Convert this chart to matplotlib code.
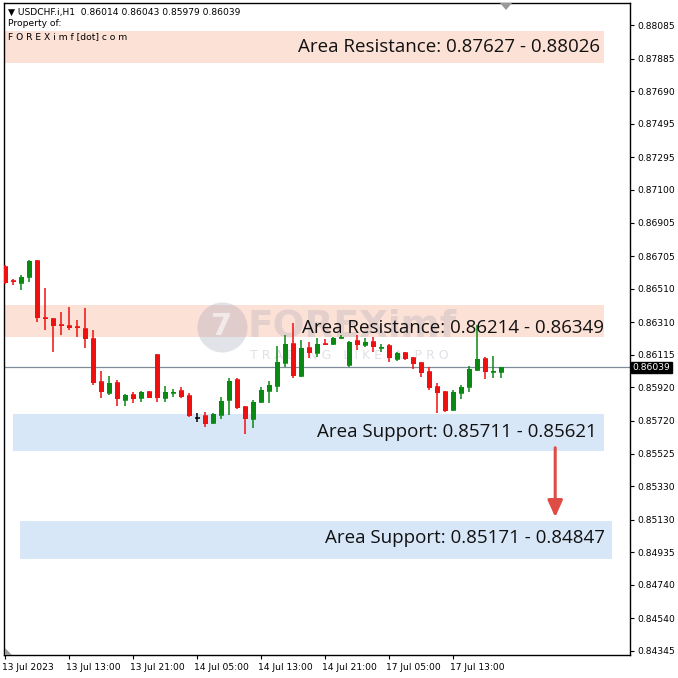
import matplotlib
matplotlib.use("Agg")
import matplotlib.pyplot as plt
from matplotlib.patches import Polygon
import matplotlib.transforms as mtransforms

# USDCHF.i H1 candles
opens = [0.86639, 0.86556, 0.86544, 0.86580, 0.86675, 0.86335, 0.86329, 0.86293, 0.86287, 0.86281,
         0.86269, 0.86209, 0.85952, 0.85887, 0.85946, 0.85845, 0.85875, 0.85857, 0.85893, 0.86114,
         0.85857, 0.85887, 0.85898, 0.85869, 0.85740, 0.85749, 0.85707, 0.85755, 0.85845, 0.85964,
         0.85803, 0.85731, 0.85833, 0.85898, 0.85928, 0.86066, 0.86179, 0.85988, 0.86155, 0.86126,
         0.86179, 0.86179, 0.86215, 0.86054, 0.86197, 0.86173, 0.86191, 0.86155, 0.86167, 0.86090,
         0.86126, 0.86096, 0.86066, 0.86012, 0.85922, 0.85893, 0.85785, 0.85887, 0.85922, 0.86024,
         0.86090, 0.86012, 0.86014]
highs = [0.86651, 0.86568, 0.86592, 0.86681, 0.86681, 0.86514, 0.86335, 0.86370, 0.86400, 0.86323,
         0.86394, 0.86263, 0.86018, 0.85988, 0.85964, 0.85881, 0.85893, 0.85898, 0.85898, 0.86120,
         0.85928, 0.85910, 0.85922, 0.85887, 0.85767, 0.85773, 0.85767, 0.85863, 0.85976, 0.85976,
         0.85809, 0.85845, 0.85922, 0.85958, 0.86167, 0.86233, 0.86305, 0.86203, 0.86191, 0.86215,
         0.86209, 0.86221, 0.86233, 0.86197, 0.86233, 0.86215, 0.86221, 0.86179, 0.86179, 0.86132,
         0.86132, 0.86102, 0.86072, 0.86042, 0.85946, 0.85898, 0.85904, 0.85934, 0.86048, 0.86293,
         0.86102, 0.86108, 0.86043]
lows = [0.86538, 0.86532, 0.86502, 0.86550, 0.86311, 0.86263, 0.86132, 0.86233, 0.86263, 0.86221,
        0.86155, 0.85934, 0.85857, 0.85875, 0.85809, 0.85809, 0.85827, 0.85833, 0.85857, 0.85833,
        0.85833, 0.85863, 0.85857, 0.85743, 0.85713, 0.85684, 0.85701, 0.85731, 0.85755, 0.85791,
        0.85642, 0.85678, 0.85827, 0.85827, 0.85893, 0.86042, 0.85976, 0.85982, 0.86096, 0.86102,
        0.86173, 0.86173, 0.86209, 0.86042, 0.86143, 0.86161, 0.86132, 0.86132, 0.86072, 0.86078,
        0.86084, 0.86030, 0.85982, 0.85904, 0.85767, 0.85773, 0.85779, 0.85851, 0.85893, 0.86018,
        0.85970, 0.85976, 0.85979]
closes = [0.86544, 0.86550, 0.86580, 0.86675, 0.86335, 0.86329, 0.86287, 0.86287, 0.86275, 0.86275,
          0.86209, 0.85946, 0.85893, 0.85946, 0.85851, 0.85875, 0.85851, 0.85893, 0.85857, 0.85857,
          0.85893, 0.85893, 0.85863, 0.85749, 0.85740, 0.85701, 0.85761, 0.85839, 0.85958, 0.85797,
          0.85731, 0.85833, 0.85904, 0.85934, 0.86072, 0.86179, 0.85988, 0.86155, 0.86126, 0.86179,
          0.86173, 0.86215, 0.86221, 0.86191, 0.86173, 0.86191, 0.86161, 0.86161, 0.86096, 0.86126,
          0.86090, 0.86060, 0.86006, 0.85916, 0.85887, 0.85779, 0.85893, 0.85922, 0.86030, 0.86090,
          0.86012, 0.86018, 0.86039]

last_price = 0.86039

price_ticks = [0.88085, 0.87885, 0.87690, 0.87495, 0.87295, 0.87100, 0.86905, 0.86705, 0.86510, 0.86310,
               0.86115, 0.85920, 0.85720, 0.85525, 0.85330, 0.85130, 0.84935, 0.84740, 0.84540, 0.84345]
time_ticks = [0, 8, 16, 24, 32, 40, 48, 56]
time_labels = ["13 Jul 2023", "13 Jul 13:00", "13 Jul 21:00", "14 Jul 05:00",
               "14 Jul 13:00", "14 Jul 21:00", "17 Jul 05:00", "17 Jul 13:00"]

# drawn zones (bar-index span, price span) and their captions
zone_x0 = [-0.2, -0.2, 1.0, 1.9]
zone_x1 = [74.9, 74.9, 74.9, 75.9]
zone_lo = [0.87858, 0.86221, 0.85540, 0.84895]
zone_hi = [0.88049, 0.86412, 0.85761, 0.85122]
zone_kind = ["res", "res", "sup", "sup"]
zone_text = ["Area Resistance: 0.87627 - 0.88026",
             "Area Resistance: 0.86214 - 0.86349",
             "Area Support: 0.85711 - 0.85621",
             "Area Support: 0.85171 - 0.84847"]
text_x = [74.4, 74.9, 74.0, 75.0]
text_y = [0.87954, 0.86275, 0.85654, 0.85020]

zone_colors = {"res": "#fce1d6", "sup": "#d7e7f8"}
up_col, down_col, doji_col = "#0a8a12", "#f01010", "#000000"

W = H = 678
fig = plt.figure(figsize=(6.78, 6.78), dpi=100)
ax = fig.add_axes([4 / W, 1 - 655 / H, 626 / W, 652 / H])

for x0, x1, lo, hi, kind in zip(zone_x0, zone_x1, zone_lo, zone_hi, zone_kind):
    ax.fill_between([x0, x1], lo, hi, color=zone_colors[kind], lw=0, zorder=1)

# watermark
ax.plot(27.1, 0.86281, "o", ms=36, color="#8e8ea8", alpha=0.25, mec="none", zorder=2)
ax.text(27.1, 0.86281, "7", fontsize=22, fontweight="bold", color="white", alpha=0.6,
        ha="center", va="center", zorder=2)
ax.text(30.3, 0.86281, "FOREXimf", fontsize=27, fontweight="bold", color="#9a9ab0",
        alpha=0.25, ha="left", va="center", zorder=2)
ax.text(43.0, 0.86108, "T R A D I N G   L I K E   A   P R O", fontsize=9, color="#9a9ab0",
        alpha=0.3, ha="center", va="center", zorder=2)

# current price line
ax.axhline(last_price, color="#7f8c9a", lw=0.9, zorder=2)

for i, (o, h, l, c) in enumerate(zip(opens, highs, lows, closes)):
    col = up_col if c > o else down_col if c < o else doji_col
    ax.vlines(i, l, h, color=col, lw=1.1, zorder=3)
    ax.bar(i, c - o, bottom=o, width=0.62, color=col, lw=0, zorder=4)
    ax.hlines(o, i - 0.31, i + 0.31, color=col, lw=1.1, zorder=4)

for tx, ty, t in zip(text_x, text_y, zone_text):
    ax.text(tx, ty, t, fontsize=13.5, family="Open Sans", color="#111111",
            ha="right", va="center", zorder=5)

ax.annotate("", xy=(68.75, 0.85128), xytext=(68.75, 0.85576),
            arrowprops=dict(arrowstyle="-|>,head_length=1.0,head_width=0.45",
                            color="#df4c46", lw=2.2), zorder=6)

ax.set_xlim(-0.15, 78.1)
ax.set_ylim(0.84321, 0.88217)

ax.yaxis.tick_right()
ax.set_yticks(price_ticks)
ax.set_yticklabels([f"{p:.5f}" for p in price_ticks])
ax.set_xticks(time_ticks)
ax.set_xticklabels(time_labels)
ax.tick_params(axis="both", direction="out", length=3, width=0.8, labelsize=6.6,
               colors="#000000", pad=2)
ax.tick_params(axis="x", pad=3)
offset = mtransforms.ScaledTranslation(-3 / 100, 0, fig.dpi_scale_trans)
for lbl in ax.get_xticklabels():
    lbl.set_horizontalalignment("left")
    lbl.set_transform(lbl.get_transform() + offset)
for s in ax.spines.values():
    s.set_linewidth(1.0)
    s.set_color("black")

# last price tag
trans = mtransforms.blended_transform_factory(ax.transAxes, ax.transData)
ax.text(1.004, last_price, f"{last_price:.5f}", transform=trans, fontsize=6.6, color="white",
        ha="left", va="center", clip_on=False,
        bbox=dict(boxstyle="square,pad=0.15", fc="black", ec="black"), zorder=7)

# header
fig.text(8 / W, 1 - 12 / H, "\u25BC USDCHF.i,H1  0.86014 0.86043 0.85979 0.86039",
         fontsize=6.6, va="center", ha="left")
fig.text(8 / W, 1 - 24 / H, "Property of:", fontsize=6.6, va="center", ha="left")
fig.text(8 / W, 1 - 37 / H, "F O R E X i m f [dot] c o m", fontsize=6.6, va="center", ha="left")

# MT4 shift markers
fig.patches.append(Polygon([[500 / W, 1 - 3 / H], [512 / W, 1 - 3 / H], [506 / W, 1 - 10 / H]],
                           closed=True, transform=fig.transFigure, fc="#9a9a9a", ec="none"))
fig.patches.append(Polygon([[5 / W, 1 - 648 / H], [5 / W, 1 - 655 / H], [12 / W, 1 - 655 / H]],
                           closed=True, transform=fig.transFigure, fc="#9a9a9a", ec="none"))

fig.savefig("out.png", dpi=100)
